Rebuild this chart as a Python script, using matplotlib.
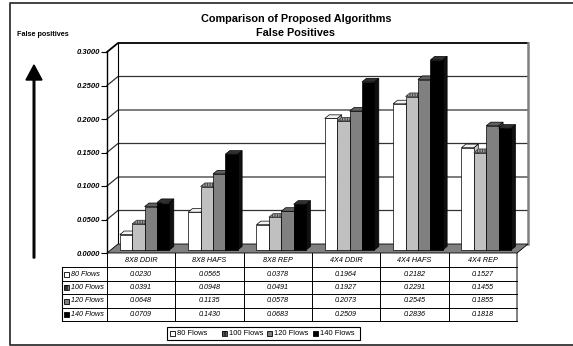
import matplotlib
matplotlib.use('Agg')
import matplotlib.pyplot as plt
from matplotlib.patches import Polygon, Rectangle
import numpy as np

plt.rcParams['font.family'] = ['Liberation Sans', 'DejaVu Sans']
plt.rcParams['hatch.linewidth'] = 0.6

# data
categories = ['8X8 DDIR', '8X8 HAFS', '8X8 REP', '4X4 DDIR', '4X4 HAFS', '4X4 REP']
series_names = ['80 Flows', '100 Flows', '120 Flows', '140 Flows']
flows_80 = [0.0230, 0.0565, 0.0378, 0.1964, 0.2182, 0.1527]
flows_100 = [0.0391, 0.0948, 0.0491, 0.1927, 0.2291, 0.1455]
flows_120 = [0.0648, 0.1135, 0.0578, 0.2073, 0.2545, 0.1855]
flows_140 = [0.0709, 0.1430, 0.0683, 0.2509, 0.2836, 0.1818]
yticks = [0.0, 0.05, 0.10, 0.15, 0.20, 0.25, 0.30]
series = [flows_80, flows_100, flows_120, flows_140]

# styles
front_c = ['white', '#C0C0C0', '#808080', 'black']
top_c = ['#F2F2F2', '#C0C0C0', '#606060', '#303030']
side_c = ['#C8C8C8', '#909090', '#505050', '#101010']
hatches = [None, '|' * 10, None, None]

W, H = 573, 346
fig = plt.figure(figsize=(W / 100, H / 100), dpi=100)

# overlay in pixel coords for frame, titles, table, legend
ov = fig.add_axes([0, 0, 1, 1], zorder=0)
ov.set_xlim(0, W)
ov.set_ylim(H, 0)
ov.axis('off')

X0, X1, Y0, Y1 = 107, 517, 253, 52
ax = fig.add_axes([X0 / W, 1 - Y0 / H, (X1 - X0) / W, (Y0 - Y1) / H], zorder=1)
ax.set_xlim(-0.5, 5.5)
ax.set_ylim(0, 0.3)
ax.patch.set_visible(False)
for s in ['top', 'right', 'bottom']:
    ax.spines[s].set_visible(False)
ax.spines['left'].set_linewidth(1.0)
ax.set_xticks([])
ax.set_yticks(yticks)
ax.set_yticklabels(['%.4f' % v for v in yticks], fontsize=5.5,
                   fontweight='bold', fontstyle='italic')
ax.tick_params(axis='y', length=4, width=0.8, pad=1)

colw = (X1 - X0) / 6
DX = 11 / colw
DY = 9 * 0.3 / (Y0 - Y1)

# back wall + grid
ax.add_patch(Polygon([(-0.5 + DX, DY), (5.5 + DX, DY), (5.5 + DX, 0.3 + DY), (-0.5 + DX, 0.3 + DY)],
                     closed=True, fc='white', ec='none', zorder=1, clip_on=False))
for v in yticks[1:-1]:
    ax.plot([-0.5, -0.5 + DX, 5.5 + DX], [v, v + DY, v + DY], color='#333333', lw=0.9,
            clip_on=False, zorder=2)
ax.plot([-0.5, -0.5 + DX, 5.5 + DX], [0.3, 0.3 + DY, 0.3 + DY], color='black', lw=1.3,
        clip_on=False, zorder=2)
ax.plot([-0.5 + DX, -0.5 + DX], [DY, 0.3 + DY], color='black', lw=0.8, clip_on=False, zorder=2)
ax.plot([5.5 + DX, 5.5 + DX], [DY, 0.3 + DY], color='#808080', lw=1.8, clip_on=False, zorder=2)

# floor
ax.add_patch(Polygon([(-0.5, 0), (5.5, 0), (5.5 + DX, DY), (-0.5 + DX, DY)], closed=True,
                     fc='#808080', ec='black', lw=0.6, zorder=3, clip_on=False))

# bars with 3d faces
f = 0.33
base = f * DY
bdx = 4.4 / colw
bdy = 3.6 * 0.3 / (Y0 - Y1)
off = 12.8 / colw
w = 12.4 / colw
for j, vals in enumerate(series):
    xs = np.arange(len(categories)) - 0.5 + off + j * w
    bars = ax.bar(xs, vals, width=w, bottom=base, align='edge', color=front_c[j],
                  edgecolor='black', lw=0.5, clip_on=False)
    for i, (rect, x, v) in enumerate(zip(bars, xs, vals)):
        z = 10 + i * 10 + j * 2
        rect.set_zorder(z + 1)
        t = base + v
        ax.add_patch(Polygon([(x + w, base), (x + w + bdx, base + bdy), (x + w + bdx, t + bdy), (x + w, t)],
                             closed=True, fc=side_c[j], ec='black', lw=0.5, zorder=z, clip_on=False))
        ax.add_patch(Polygon([(x, t), (x + w, t), (x + w + bdx, t + bdy), (x + bdx, t + bdy)],
                             closed=True, fc=top_c[j], ec='#333333' if hatches[j] else 'black',
                             hatch=hatches[j], lw=0.5, zorder=z + 1, clip_on=False))

# outer frame
ov.plot([W, 10, 10, W], [3, 3, 345, 345], color='#333333', lw=1.3)

# titles
ov.text(296, 19.5, 'Comparison of Proposed Algorithms', ha='center', va='center',
        fontsize=7.8, fontweight='bold')
ov.text(296, 33, 'False Positives', ha='center', va='center', fontsize=7.8, fontweight='bold')
ov.text(17, 35, 'False positives', ha='left', va='center', fontsize=5.2, fontweight='bold')

# arrow
ov.arrow(34, 258, 0, -193, width=1.6, head_width=16, head_length=15,
         length_includes_head=True, fc='black', ec='black')


def marker(x, y, j):
    # small legend key square
    if j == 1:
        ov.add_patch(Rectangle((x, y), 5, 5, fc='#303030', ec='#B0B0B0', lw=0,
                               hatch='|' * 4))
        ov.add_patch(Rectangle((x, y), 5, 5, fc='none', ec='black', lw=0.6))
    else:
        ov.add_patch(Rectangle((x, y), 5, 5, fc=front_c[j], ec='black', lw=0.6))


# data table
row_lines = [267, 281, 294, 308, 321]
LX = 62
for k in range(7):
    xk = X0 + k * colw
    ov.plot([xk, xk], [Y0, row_lines[-1]], color='#808080' if k == 6 else 'black',
            lw=1.4 if k == 6 else 0.7)
ov.plot([LX, LX], [row_lines[0], row_lines[-1]], color='black', lw=0.8)
for yl in row_lines:
    ov.plot([LX, X1], [yl, yl], color='black', lw=0.7)
for i, c in enumerate(categories):
    ov.text(X0 + (i + 0.5) * colw, 260, c, ha='center', va='center', fontsize=5.2,
            fontstyle='italic')
for j, (name, vals) in enumerate(zip(series_names, series)):
    yc = (row_lines[j] + row_lines[j + 1]) / 2
    marker(64, yc - 2.5, j)
    ov.text(71, yc, name, ha='left', va='center', fontsize=5.2, fontstyle='italic')
    for i, v in enumerate(vals):
        ov.text(X0 + (i + 0.5) * colw, yc, '%.4f' % v, ha='center', va='center',
                fontsize=5.2, fontstyle='italic')

# legend
ov.add_patch(Rectangle((168, 328), 193, 13, fc='#808080', ec='none'))
ov.add_patch(Rectangle((167, 327), 193, 13, fc='white', ec='black', lw=0.8))
leg_x = [170, 222, 267, 313]
for j, name in enumerate(series_names):
    marker(leg_x[j], 331, j)
    ov.text(leg_x[j] + 7, 333.7, name, ha='left', va='center', fontsize=5.4)

fig.savefig('out.png', dpi=100)
